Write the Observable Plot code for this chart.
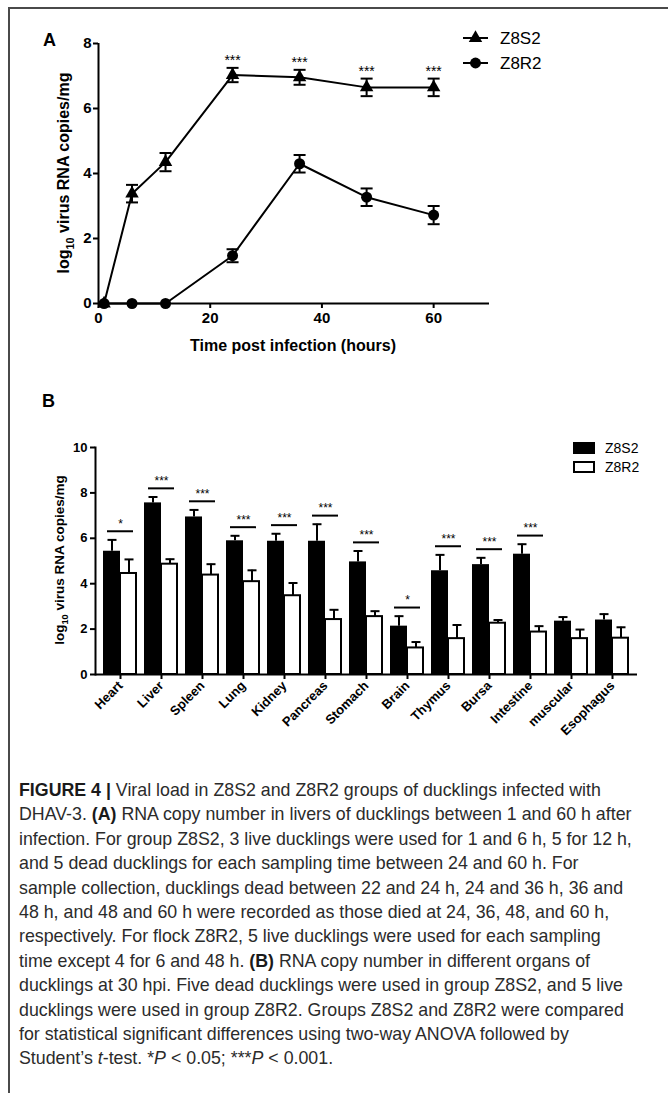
<!DOCTYPE html>
<html><head><meta charset="utf-8">
<script src="https://cdn.jsdelivr.net/npm/d3@7"></script>
<script src="https://cdn.jsdelivr.net/npm/@observablehq/plot@0.6"></script>
<style>
body{margin:0;background:#fff;}
#fig{position:relative;width:668px;height:1093px;overflow:hidden;font-family:"Liberation Sans",Arial,sans-serif;background:#fff;}
#frameTop{position:absolute;left:8px;top:7px;width:670px;height:2px;background:#4a4a4a;}
#frameLeft{position:absolute;left:8px;top:7px;width:2px;height:1100px;background:#4a4a4a;}
#panelA{position:absolute;left:11px;top:10px;}
#panelB{position:absolute;left:11px;top:360px;}
#caption{position:absolute;left:19px;top:778px;font-family:"Liberation Sans",Arial,sans-serif;font-weight:400;font-size:17.8px;line-height:24.4px;color:#2b2b2b;white-space:nowrap;}
#caption b{font-weight:700;color:#1a1a1a}
g[aria-label$="tick"]{stroke-width:2px;}
</style>
</head><body>
<div id="fig"><div id="frameTop"></div><div id="frameLeft"></div><div id="panelA"></div><div id="panelB"></div>
<div id="caption">
<b>FIGURE 4 |</b> Viral load in Z8S2 and Z8R2 groups of ducklings infected with<br>
DHAV-3. <b>(A)</b> RNA copy number in livers of ducklings between 1 and 60 h after<br>
infection. For group Z8S2, 3 live ducklings were used for 1 and 6 h, 5 for 12 h,<br>
and 5 dead ducklings for each sampling time between 24 and 60 h. For<br>
sample collection, ducklings dead between 22 and 24 h, 24 and 36 h, 36 and<br>
48 h, and 48 and 60 h were recorded as those died at 24, 36, 48, and 60 h,<br>
respectively. For flock Z8R2, 5 live ducklings were used for each sampling<br>
time except 4 for 6 and 48 h. <b>(B)</b> RNA copy number in different organs of<br>
ducklings at 30 hpi. Five dead ducklings were used in group Z8S2, and 5 live<br>
ducklings were used in group Z8R2. Groups Z8S2 and Z8R2 were compared<br>
for statistical significant differences using two-way ANOVA followed by<br>
Student’s <i>t</i>-test. *<i>P</i> &lt; 0.05; ***<i>P</i> &lt; 0.001.
</div>
</div>
<script>
// ---------- Panel A data ----------
const timesA = [1, 6, 12, 24, 36, 48, 60];
const z8s2Mean = [0, 3.38, 4.35, 7.03, 6.96, 6.65, 6.65];
const z8s2Err  = [0, 0.27, 0.28, 0.22, 0.23, 0.27, 0.27];
const z8s2Sig  = ["", "", "", "***", "***", "***", "***"];
const z8r2Mean = [0, 0, 0, 1.47, 4.3, 3.27, 2.72];
const z8r2Err  = [0, 0, 0, 0.2, 0.27, 0.27, 0.28];
const xTicksA = [0, 20, 40, 60];
const yTicksA = [0, 2, 4, 6, 8];

// ---------- Panel B data ----------
const organs = ["Heart","Liver","Spleen","Lung","Kidney","Pancreas","Stomach","Brain","Thymus","Bursa","Intestine","muscular","Esophagus"];
const s2Organ    = [5.43, 7.56, 6.94, 5.89, 5.87, 5.87, 4.96, 2.13, 4.57, 4.84, 5.3, 2.35, 2.4];
const s2OrganErr = [0.5, 0.26, 0.31, 0.22, 0.33, 0.75, 0.48, 0.44, 0.7, 0.3, 0.44, 0.18, 0.26];
const r2Organ    = [4.45, 4.86, 4.38, 4.09, 3.47, 2.42, 2.55, 1.17, 1.58, 2.26, 1.87, 1.58, 1.6];
const r2OrganErr = [0.62, 0.22, 0.48, 0.5, 0.56, 0.43, 0.24, 0.26, 0.6, 0.14, 0.26, 0.4, 0.48];
const organSig   = ["*","***","***","***","***","***","***","*","***","***","***","",""];
const yTicksB = [0, 2, 4, 6, 8, 10];
const groups = ["Z8S2", "Z8R2"];

const font = '"Liberation Sans", Arial, sans-serif';
const capSymbol = {draw(ctx, size){const w = Math.sqrt(size/Math.PI); ctx.moveTo(-w,0); ctx.lineTo(w,0);}};
const OX = 11, OYA = 10; // panel offsets on the page

const rowsA = timesA.flatMap((t,i)=>[
  {group:"Z8S2", t, v:z8s2Mean[i], e:z8s2Err[i], sig:z8s2Sig[i]},
  {group:"Z8R2", t, v:z8r2Mean[i], e:z8r2Err[i], sig:""}
]);
const errA = rowsA.filter(d=>d.e>0);

function yLabel(svg, x, y, size){
  const t = d3.select(svg).append("text")
    .attr("transform",`translate(${x},${y}) rotate(-90)`)
    .attr("text-anchor","middle").attr("fill","black")
    .style("font-size",size+"px").style("font-weight","bold").style("font-family",font);
  t.append("tspan").text("log");
  t.append("tspan").text("10").attr("dy", size*0.3).style("font-size",(size*0.68)+"px");
  t.append("tspan").text(" virus RNA copies/mg").attr("dy", -size*0.3);
}

const plotA = Plot.plot({
  width:668-OX, height:360-OYA, marginTop:43-OYA, marginBottom:57, marginLeft:98-OX, marginRight:179,
  style:{fontFamily:font, fontSize:"15px", fontWeight:"bold", color:"black", background:"transparent", overflow:"visible"},
  x:{domain:[0,70]}, y:{domain:[0,8]},
  marks:[
    Plot.axisX({ticks:xTicksA, tickSize:5, tickPadding:4, label:null, strokeWidth:2}),
    Plot.axisY({ticks:yTicksA, tickSize:5, tickPadding:2, label:null, strokeWidth:2}),
    Plot.ruleX([0],{stroke:"black", strokeWidth:2}),
    Plot.ruleY([0],{stroke:"black", strokeWidth:2}),
    Plot.line(rowsA,{x:"t", y:"v", z:"group", stroke:"black", strokeWidth:2}),
    Plot.ruleX(errA,{x:"t", y1:d=>d.v-d.e, y2:d=>d.v+d.e, stroke:"black", strokeWidth:2}),
    Plot.dot(errA,{x:"t", y:d=>d.v+d.e, symbol:capSymbol, r:6, stroke:"black", strokeWidth:2, fill:"none"}),
    Plot.dot(errA,{x:"t", y:d=>d.v-d.e, symbol:capSymbol, r:6, stroke:"black", strokeWidth:2, fill:"none"}),
    Plot.dot(rowsA.filter(d=>d.group==="Z8R2"),{x:"t", y:"v", symbol:"circle", r:5.5, fill:"black"}),
    Plot.dot(rowsA.filter(d=>d.group==="Z8S2"),{x:"t", y:"v", symbol:"triangle", r:5, fill:"black"}),
    Plot.text(rowsA.filter(d=>d.sig),{x:"t", y:d=>d.v+d.e, text:"sig", dy:-7, fontSize:14, fontWeight:"normal", fill:"black"})
  ]
});
document.getElementById("panelA").appendChild(plotA);
{
  const s = d3.select(plotA);
  s.append("text").attr("x",43-OX).attr("y",46-OYA).attr("text-anchor","start").text("A").style("font-size","18px").style("font-weight","bold").attr("fill","black");
  yLabel(plotA, 69-OX, 173-OYA, 16);
  s.append("text").attr("x",293-OX).attr("y",351-OYA).attr("text-anchor","middle").text("Time post infection (hours)")
    .style("font-size","16px").style("font-weight","bold").attr("fill","black");
  const sym = {Z8S2:d3.symbolTriangle, Z8R2:d3.symbolCircle};
  const sz = {Z8S2:Math.PI*25, Z8R2:Math.PI*30};
  groups.forEach((g,i)=>{
    const y = 38 + i*25 - OYA;
    s.append("line").attr("x1",463-OX).attr("x2",488-OX).attr("y1",y).attr("y2",y).attr("stroke","black").attr("stroke-width",2);
    s.append("path").attr("d", d3.symbol(sym[g], sz[g])()).attr("transform",`translate(${475.5-OX},${y})`).attr("fill","black");
    s.append("text").attr("x",500-OX).attr("y",y+6).attr("text-anchor","start").text(g).style("font-size","17px").style("font-weight","normal").attr("fill","black");
  });
}

// ---------- Panel B ----------
const rowsB = organs.map((o,i)=>({organ:o, s2:s2Organ[i], s2e:s2OrganErr[i], r2:r2Organ[i], r2e:r2OrganErr[i], sig:organSig[i],
  top:Math.max(s2Organ[i]+s2OrganErr[i], r2Organ[i]+r2OrganErr[i])}));
const sigB = rowsB.filter(d=>d.sig);
const plotB = Plot.plot({
  width:668-OX, height:400, marginTop:87, marginBottom:86, marginLeft:95-OX, marginRight:31,
  style:{fontFamily:font, fontSize:"13px", fontWeight:"bold", color:"black", background:"transparent", overflow:"visible"},
  x:{domain:organs, paddingInner:0.18, paddingOuter:0.09},
  y:{domain:[0,10]},
  marks:[
    Plot.barY(rowsB,{x:"organ", y:"s2", fill:"black", insetRight:17}),
    Plot.barY(rowsB,{x:"organ", y:"r2", fill:"white", stroke:"black", strokeWidth:2, insetLeft:17, insetRight:1}),
    Plot.ruleX(rowsB,{x:"organ", y1:"s2", y2:d=>d.s2+d.s2e, dx:-8.5, stroke:"black", strokeWidth:2}),
    Plot.dot(rowsB,{x:"organ", y:d=>d.s2+d.s2e, dx:-8.5, symbol:capSymbol, r:4.5, stroke:"black", strokeWidth:2, fill:"none"}),
    Plot.ruleX(rowsB,{x:"organ", y1:"r2", y2:d=>d.r2+d.r2e, dx:8.5, stroke:"black", strokeWidth:2}),
    Plot.dot(rowsB,{x:"organ", y:d=>d.r2+d.r2e, dx:8.5, symbol:capSymbol, r:4.5, stroke:"black", strokeWidth:2, fill:"none"}),
    Plot.tickY(sigB,{x:"organ", y:d=>d.top+0.38, insetLeft:4, insetRight:4, stroke:"black", strokeWidth:2}),
    Plot.text(sigB,{x:"organ", y:d=>d.top+0.38, text:"sig", dy:-7, fontSize:12, fontWeight:"normal", fill:"black"}),
    Plot.axisX({tickRotate:-45, tickSize:5, tickPadding:4, label:null, fontSize:13, strokeWidth:2}),
    Plot.axisY({ticks:yTicksB, tickSize:5, tickPadding:3, label:null, strokeWidth:2}),
    Plot.frame({anchor:"left", stroke:"black", strokeWidth:2}),
    Plot.ruleY([0],{stroke:"black", strokeWidth:2})
  ]
});
document.getElementById("panelB").appendChild(plotB);
{
  const s = d3.select(plotB);
  s.append("text").attr("x",42-OX).attr("y",47).attr("text-anchor","start").text("B").style("font-size","18px").style("font-weight","bold").attr("fill","black");
  yLabel(plotB, 64-OX, 200, 13.5);
  groups.forEach((g,i)=>{
    const y = 82 + i*19;
    s.append("rect").attr("x",574-OX).attr("y",y+1).attr("width",20).attr("height",10)
      .attr("fill", i===0?"black":"white").attr("stroke","black").attr("stroke-width",2);
    s.append("text").attr("x",605-OX).attr("y",y+11).attr("text-anchor","start").text(g).style("font-size","14px").style("font-weight","normal").attr("fill","black");
  });
}
</script>
</body></html>
